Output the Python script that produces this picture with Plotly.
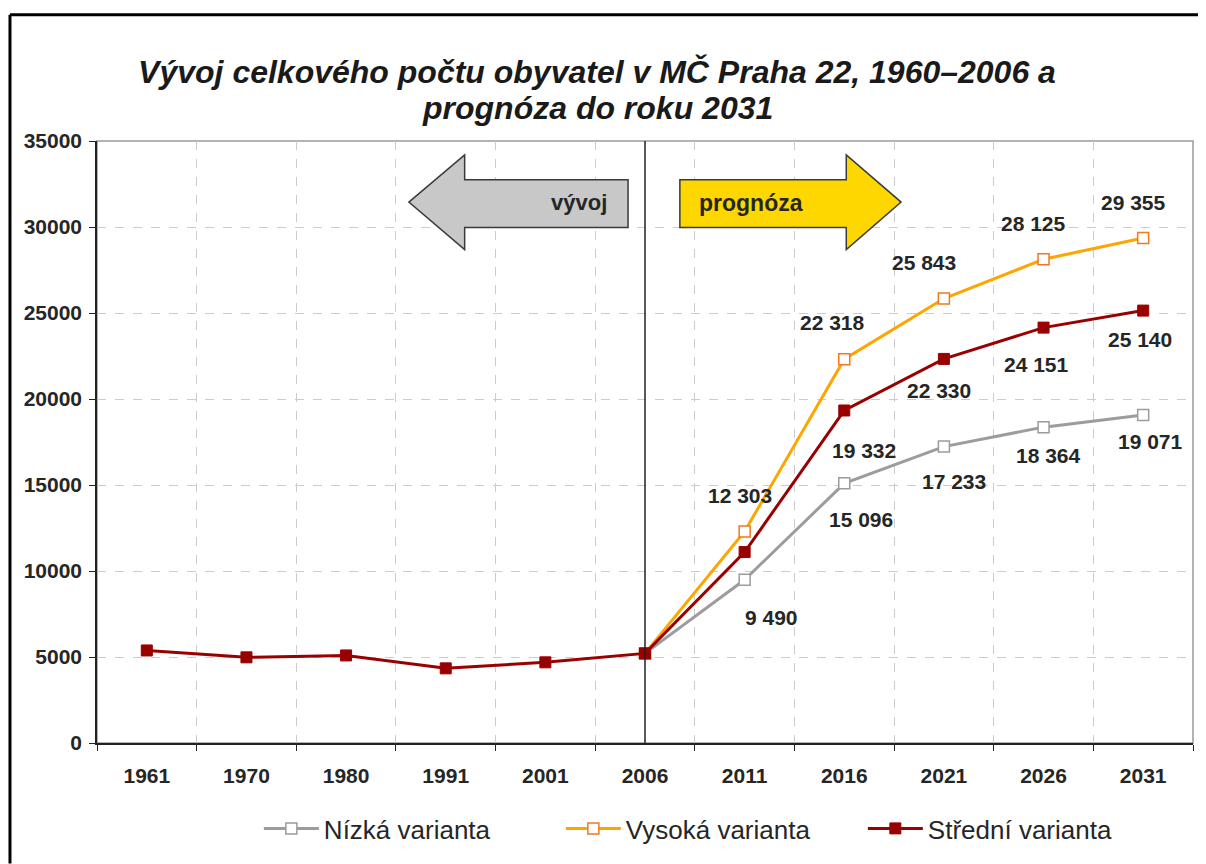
import plotly.graph_objects as go

# ---------------------------
# DATA
# ---------------------------

years = ["1961", "1970", "1980", "1991", "2001", "2006", "2011", "2016", "2021", "2026", "2031"]
forecast_years = ["2006", "2011", "2016", "2021", "2026", "2031"]

stredni = [5380, 4980, 5090, 4340, 4690, 5210, 11100, 19332, 22330, 24151, 25140]
nizka = [5210, 9490, 15096, 17233, 18364, 19071]
vysoka = [5210, 12303, 22318, 25843, 28125, 29355]

# which points get a value label (2006 and middle 2011 unlabeled)
nizka_labeled = [False, True, True, True, True, True]
vysoka_labeled = [False, True, True, True, True, True]
stredni_labeled = [False] * 7 + [True, True, True, True]

# label offsets in px (dx, dy), dy positive = down
nizka_off = [(0, 0), (27, 38), (17, 36), (10, 35), (5, 28), (7, 27)]
vysoka_off = [(0, 0), (-5, -36), (-12, -37), (-20, -36), (-10, -36), (-10, -36)]
stredni_off = [(0, 0)] * 7 + [(20, 40), (-5, 32), (-7, 37), (-3, 29)]

GRAY = "#9c9c9c"
ORANGE = "#ffa500"
DARKRED = "#990000"
TXT = "#262626"
FONT = "Liberation Sans Narrow, Arial Narrow, Liberation Sans, Arial"
TITLE_FONT = dict(family="Liberation Sans, Arial", size=32, color="#1a1a1a",
                  weight="bold", style="italic")


def fmt(v):
    return f"{v:,}".replace(",", " ")


fig = go.Figure()

fig.add_trace(go.Scatter(
    x=forecast_years, y=nizka, mode="lines+markers", name="Nízká varianta",
    line=dict(color=GRAY, width=3),
    marker=dict(symbol="square", size=11, color="white", line=dict(color=GRAY, width=1.5)),
))
fig.add_trace(go.Scatter(
    x=forecast_years, y=vysoka, mode="lines+markers", name="Vysoká varianta",
    line=dict(color=ORANGE, width=3),
    marker=dict(symbol="square", size=11, color="white", line=dict(color="#f07820", width=1.5)),
))
fig.add_trace(go.Scatter(
    x=years, y=stredni, mode="lines+markers", name="Střední varianta",
    line=dict(color=DARKRED, width=3),
    marker=dict(symbol="square", size=11, color=DARKRED, line=dict(color=DARKRED, width=1)),
))

# value labels (x given as category index)
annos = []
for xs, ys, lab, off in [
    (forecast_years, nizka, nizka_labeled, nizka_off),
    (forecast_years, vysoka, vysoka_labeled, vysoka_off),
    (years, stredni, stredni_labeled, stredni_off),
]:
    for x, y, show, (dx, dy) in zip(xs, ys, lab, off):
        if show:
            annos.append(dict(
                x=years.index(x), y=y, text=fmt(y), showarrow=False,
                xref="x", yref="y", xshift=dx, yshift=-dy,
                font=dict(family=FONT, size=21, color=TXT, weight="bold"),
            ))

# arrow labels
annos.append(dict(x=4.34, y=31400, text="vývoj", showarrow=False,
                  font=dict(family=FONT, size=22, color=TXT, weight="bold")))
annos.append(dict(x=6.06, y=31400, text="prognóza", showarrow=False,
                  font=dict(family=FONT, size=23, color=TXT, weight="bold")))

# second title line (tighter line spacing than plotly's title)
annos.append(dict(x=(597 - 97) / 1096, y=(746 - 108) / 605, xref="paper", yref="paper",
                  xanchor="center", yanchor="middle", showarrow=False,
                  text="prognóza do roku 2031", font=TITLE_FONT))

shapes = [
    # plot border (gray)
    dict(type="rect", xref="paper", yref="paper", x0=0, x1=1, y0=0, y1=1,
         line=dict(color="#9a9a9a", width=1.5), layer="below"),
    # 2006 divider
    dict(type="line", xref="x", yref="y", x0=5, x1=5, y0=0, y1=35000,
         line=dict(color="#222222", width=1.5)),
    # gray arrow (vývoj)
    dict(type="path", xref="x", yref="y",
         path="M 2.63,31450 L 3.19,34190 L 3.19,32740 L 4.83,32740 L 4.83,29970 L 3.19,29970 L 3.19,28690 Z",
         fillcolor="#c8c8c8", line=dict(color="#3a3a3a", width=1.5)),
    # yellow arrow (prognóza)
    dict(type="path", xref="x", yref="y",
         path="M 5.35,32740 L 7.02,32740 L 7.02,34190 L 7.57,31450 L 7.02,28690 L 7.02,29970 L 5.35,29970 Z",
         fillcolor="#ffd700", line=dict(color="#3a3a3a", width=1.5)),
    # outer frame
    dict(type="line", xref="paper", yref="paper", x0=-0.0794, x1=1.03, y0=1.2099, y1=1.2099,
         line=dict(color="black", width=3)),
    dict(type="line", xref="paper", yref="paper", x0=-0.0794, x1=-0.0794, y0=-0.2, y1=1.2099,
         line=dict(color="black", width=3)),
]

# page body has an 8px margin, so the figure is 8px smaller and margins shifted
fig.update_layout(
    width=1198, height=856,
    margin=dict(l=89, r=13, t=133, b=113),
    paper_bgcolor="white", plot_bgcolor="white",
    title=dict(
        text="Vývoj celkového počtu obyvatel v MČ Praha 22, 1960–2006 a",
        x=(597 - 8) / 1198, xref="container", xanchor="center",
        y=1 - 64 / 856, yref="container", yanchor="middle",
        font=TITLE_FONT,
    ),
    showlegend=True,
    legend=dict(
        orientation="h", x=0.561, xanchor="center", y=-0.142, yanchor="middle",
        font=dict(family=FONT, size=26, color=TXT),
        itemwidth=55, entrywidth=232, entrywidthmode="pixels",
    ),
    annotations=annos,
    shapes=shapes,
)

fig.update_xaxes(
    type="category", categoryorder="array", categoryarray=years,
    range=[-0.5, 10.5],
    showline=True, linecolor="#222222", linewidth=1.5,
    ticks="outside", ticklen=6, tickcolor="#222222", tickson="boundaries",
    ticklabelstandoff=13,
    showgrid=True, gridcolor="#cccccc", griddash="dash", gridwidth=1,
    tickfont=dict(family=FONT, size=21, color=TXT, weight="bold"),
)
fig.update_yaxes(
    range=[0, 35000], dtick=5000, tickformat="d",
    showline=True, linecolor="#222222", linewidth=1.5,
    ticks="outside", ticklen=6, tickcolor="#222222",
    ticklabelstandoff=3,
    showgrid=True, gridcolor="#cccccc", griddash="dash", gridwidth=1,
    zeroline=False,
    tickfont=dict(family=FONT, size=21, color=TXT, weight="bold"),
)

fig.write_html("out.html")
